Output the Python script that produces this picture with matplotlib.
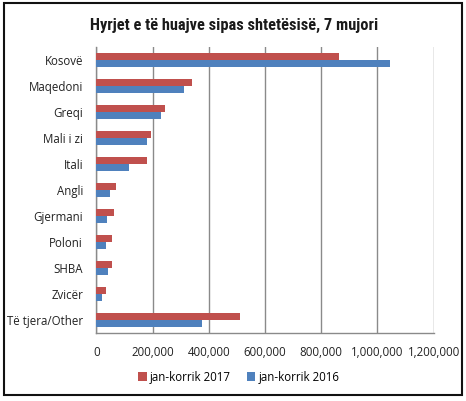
import matplotlib
matplotlib.use("Agg")
import matplotlib.pyplot as plt
import numpy as np
from matplotlib.patches import Rectangle
from matplotlib.ticker import FuncFormatter

categories = ["Kosovë", "Maqedoni", "Greqi", "Mali i zi", "Itali", "Angli",
              "Gjermani", "Poloni", "SHBA", "Zvicër", "Të tjera/Other"]
v2017 = [862000, 341000, 244000, 193000, 179000, 69000, 64000, 57000, 57000, 33000, 510000]
v2016 = [1046000, 311000, 231000, 181000, 115000, 49000, 38000, 33000, 42000, 21000, 376000]
xticks = [0, 200000, 400000, 600000, 800000, 1000000, 1200000]
series_labels = ["jan-korrik 2017", "jan-korrik 2016"]
title = "Hyrjet e të huajve sipas shtetësisë, 7 mujori"

red = "#C0504D"
blue = "#4F81BD"

fig = plt.figure(figsize=(4.66, 4.01), dpi=100)
ax = fig.add_axes([96.3/466, 1-333/401, (433.7-96.3)/466, (333-47)/401])

y = np.arange(len(categories))
h = 0.27
b1 = ax.barh(y - h/2, v2017, height=h, color=red, label=series_labels[0], zorder=3)
b2 = ax.barh(y + h/2, v2016, height=h, color=blue, label=series_labels[1], zorder=3)

ax.set_ylim(len(categories)-0.5, -0.5)
ax.set_xlim(0, 1200000)
ax.set_xticks(xticks)
ax.xaxis.set_major_formatter(FuncFormatter(lambda v, p: f"{int(v):,}"))
ax.set_yticks(y)
ax.set_yticklabels(categories)

for s in ["top", "right"]:
    ax.spines[s].set_visible(False)
for s in ["left", "bottom"]:
    ax.spines[s].set_color("#8a8a8a")
    ax.spines[s].set_linewidth(1)
ax.grid(axis="x", color="#8a8a8a", linewidth=1, zorder=0)
ax.tick_params(axis="both", length=0, colors="#222222")
ax.tick_params(axis="x", pad=9.5, labelsize=8.3)
ax.tick_params(axis="y", pad=9.5, labelsize=8.3)
for lab in ax.get_xticklabels() + ax.get_yticklabels():
    lab.set_family("Open Sans")

fig.text(234/466, 1-25/401, title, ha="center", va="center", fontsize=11.8,
         fontweight="heavy", family=["Roboto Condensed", "DejaVu Sans"],
         color="#1a1a1a")

leg = fig.legend(handles=[b1, b2], labels=series_labels, loc="center",
                 bbox_to_anchor=(239/466, 1-377/401), ncol=2, frameon=False,
                 handlelength=0.7, handleheight=0.7, handletextpad=0.3, columnspacing=1.4,
                 prop={"family": "Open Sans", "size": 8.3})

fig.patches.append(Rectangle((4/466, 1-395/401), (462-4)/466, (395-3)/401,
                             transform=fig.transFigure, fill=False,
                             edgecolor="#111111", linewidth=1.5))

fig.savefig("out.png", dpi=100)
